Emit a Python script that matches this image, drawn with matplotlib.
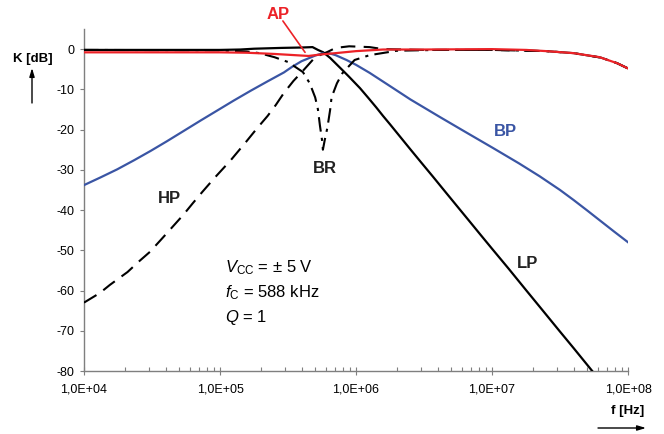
import matplotlib
matplotlib.use("Agg")
import matplotlib.pyplot as plt
from matplotlib.ticker import FixedLocator, LogLocator, NullFormatter

plt.rcParams['font.family'] = ['Liberation Sans', 'DejaVu Sans']
plt.rcParams['mathtext.fontset'] = 'custom'
plt.rcParams['mathtext.rm'] = 'Liberation Sans'
plt.rcParams['mathtext.it'] = 'Liberation Sans:italic'

# ---- measured responses: frequency [Hz] and gain K [dB] ----
lp_freq = [1.0e4, 3.16e4, 1.0e5, 1.41e5, 1.78e5, 2.82e5, 3.98e5, 4.79e5, 5.25e5,
           5.75e5, 6.46e5, 7.94e5, 8.91e5, 1.07e6, 1.23e6, 1.41e6, 1.58e6, 1.78e6,
           2.51e6, 3.02e6, 3.68e6, 4.57e6, 5.62e6, 6.76e6, 8.17e6, 1.0e7,
           1.32e7, 1.78e7, 2.34e7, 3.16e7, 3.98e7, 5.25e7, 6.03e7]
lp_db = [-0.2, -0.2, -0.2, -0.1, 0.1, 0.3, 0.4, 0.5, -0.2,
         -0.8, -2.2, -5.2, -6.9, -9.7, -12.1, -14.5, -16.6, -18.7,
         -24.9, -28.2, -31.7, -35.6, -39.3, -42.6, -46.0, -49.6,
         -54.5, -59.9, -64.8, -70.2, -74.3, -79.3, -81.8]

bp_freq = [1.0e4, 1.32e4, 1.75e4, 2.34e4, 3.09e4, 4.07e4, 5.43e4, 7.24e4, 9.5e4,
           1.26e5, 1.69e5, 2.24e5, 2.95e5, 3.39e5, 3.98e5, 4.47e5, 5.01e5, 5.75e5,
           6.31e5, 7.08e5, 8.51e5, 1.0e6, 1.26e6, 1.78e6, 2.51e6, 4.15e6, 6.31e6,
           1.02e7, 1.58e7, 2.24e7, 3.16e7, 3.98e7, 5.01e7, 6.17e7, 7.94e7, 1.0e8]
bp_db = [-33.8, -31.9, -29.9, -27.6, -25.3, -22.9, -20.3, -17.7, -15.3,
         -12.8, -10.3, -8.0, -5.8, -4.4, -3.0, -2.3, -1.6, -1.0,
         -1.0, -1.5, -2.7, -3.9, -5.9, -9.2, -12.5, -16.9, -20.5,
         -24.6, -28.4, -31.6, -35.0, -37.5, -40.1, -42.5, -45.4, -48.0]

hp_freq = [1.0e4, 1.31e4, 1.55e4, 2.09e4, 2.51e4, 3.05e4, 3.72e4, 4.47e4, 5.37e4,
           6.31e4, 7.41e4, 9.12e4, 1.20e5, 1.55e5, 1.86e5, 2.24e5, 2.57e5, 2.95e5,
           3.47e5, 4.07e5, 5.01e5, 6.17e5, 7.08e5, 8.91e5, 1.26e6, 1.58e6, 3.16e6,
           1.0e7, 2.51e7, 3.98e7, 6.31e7, 8.32e7, 1.0e8]
hp_db = [-63.0, -60.6, -58.6, -55.4, -52.9, -50.4, -47.2, -44.2, -41.2,
         -38.3, -35.5, -32.0, -27.6, -23.1, -19.8, -16.6, -13.9, -10.9,
         -7.9, -5.4, -2.0, -0.7, 0.3, 0.7, 0.5, 0.0, -0.2,
         -0.2, -0.5, -1.0, -2.1, -3.5, -4.8]

br_freq = [1.0e4, 1.0e5, 1.58e5, 1.95e5, 2.51e5, 3.16e5, 4.07e5, 4.57e5, 5.01e5,
           5.25e5, 5.43e5, 5.62e5, 5.71e5, 5.89e5, 6.17e5, 6.46e5, 6.61e5, 7.24e5,
           7.94e5, 9.77e5, 1.26e6, 2.0e6, 3.98e6, 1.0e7, 2.51e7, 3.98e7, 6.31e7,
           8.32e7, 1.0e8]
br_db = [-0.2, -0.3, -0.6, -1.0, -2.0, -3.2, -5.7, -8.5, -12.0,
         -15.0, -19.0, -22.5, -25.0, -22.6, -19.4, -15.0, -12.0, -8.5,
         -6.0, -2.7, -1.5, -0.4, -0.2, -0.2, -0.5, -1.0, -2.1,
         -3.5, -4.8]

ap_freq = [1.0e4, 1.0e5, 1.58e5, 2.51e5, 3.55e5, 4.47e5, 5.62e5, 7.08e5, 1.0e6,
           1.58e6, 3.16e6, 1.0e7, 1.78e7, 2.51e7, 3.98e7, 6.17e7, 8.32e7, 1.0e8]
ap_db = [-0.8, -0.8, -0.9, -1.2, -1.5, -1.7, -1.3, -1.0, -0.5,
         -0.1, -0.1, 0.0, -0.2, -0.5, -1.0, -2.0, -3.5, -4.8]

x_ticks = [1e4, 1e5, 1e6, 1e7, 1e8]
x_ticklabels = ["1,0E+04", "1,0E+05", "1,0E+06", "1,0E+07", "1,0E+08"]
y_ticks = [-80, -70, -60, -50, -40, -30, -20, -10, 0]
y_ticklabels = ["-80", "-70", "-60", "-50", "-40", "-30", "-20", "-10", "0"]

BLUE = "#3a55a4"
RED = "#ec2227"
GREY = "#7f7f7f"

W, H = 664, 434
fig = plt.figure(figsize=(W / 100, H / 100), dpi=100)
ax = fig.add_axes([84 / W, 1 - 371 / H, (628 - 84) / W, (371 - 29) / H])

ax.plot(lp_freq, lp_db, color="black", lw=1.6, zorder=3)
ax.plot(bp_freq, bp_db, color=BLUE, lw=1.6, zorder=3)
ax.plot(hp_freq, hp_db, color="black", lw=1.5, dashes=(7, 4), zorder=3)
ax.plot(br_freq, br_db, color="black", lw=1.5, dashes=(7, 3, 1.5, 3), zorder=3)
ax.plot(ap_freq, ap_db, color=RED, lw=1.6, zorder=4)

ax.set_xscale("log")
ax.set_xlim(1e4, 1e8)
ax.set_ylim(-80, 5)

ax.xaxis.set_major_locator(FixedLocator(x_ticks))
ax.set_xticklabels(x_ticklabels)
ax.xaxis.set_minor_locator(LogLocator(base=10, subs=range(2, 10)))
ax.xaxis.set_minor_formatter(NullFormatter())
ax.yaxis.set_major_locator(FixedLocator(y_ticks))
ax.set_yticklabels(y_ticklabels)

for s in ("top", "right"):
    ax.spines[s].set_visible(False)
for s in ("left", "bottom"):
    ax.spines[s].set_color(GREY)
    ax.spines[s].set_linewidth(1.0)

ax.tick_params(axis="x", which="major", direction="inout", length=6, width=0.8,
               color=GREY, labelsize=9, pad=6)
ax.tick_params(axis="x", which="minor", direction="in", length=3, width=0.8, color=GREY)
ax.tick_params(axis="y", which="major", direction="out", length=3, width=0.8,
               color=GREY, labelsize=9, pad=4)

# curve labels
lab = dict(fontsize=12, fontweight="bold", ha="center", va="center")
ax.text(1.26e7, -20.5, "BP", color=BLUE, **lab)
ax.text(5.86e5, -29.7, "BR", color="#222222", **lab)
ax.text(4.25e4, -37.1, "HP", color="#222222", **lab)
ax.text(1.82e7, -53.4, "LP", color="#222222", **lab)
ax.text(2.67e5, 8.7, "AP", color=RED, clip_on=False, **lab)
ax.annotate("", xy=(4.22e5, -0.8), xytext=(2.9e5, 7.0),
            arrowprops=dict(arrowstyle="-", color=RED, lw=1.2,
                            shrinkA=0, shrinkB=0),
            annotation_clip=False)

# operating conditions
cond = dict(fontsize=12, ha="left", va="center")
ax.text(1.09e5, -54.2, r"$V_{\mathrm{CC}}$ = ± 5 V", **cond)
ax.text(1.09e5, -60.6, r"$f_{\mathrm{C}}$ = 588 kHz", **cond)
ax.text(1.09e5, -66.6, r"$Q$ = 1", **cond)

# axis titles with arrows
fig.text(33 / W, 1 - 59 / H, "K [dB]", fontsize=9.5, fontweight="bold",
         ha="center", va="center")
fig.text(628 / W, 1 - 411 / H, "f [Hz]", fontsize=9.5, fontweight="bold",
         ha="center", va="center")
arr = dict(arrowstyle="-|>,head_length=0.5,head_width=0.15", color="black", lw=1.0,
           shrinkA=0, shrinkB=0)
fig.add_artist(matplotlib.patches.FancyArrowPatch(
    (32 / W, 1 - 103 / H), (32 / W, 1 - 68 / H), transform=fig.transFigure,
    mutation_scale=10, **arr))
fig.add_artist(matplotlib.patches.FancyArrowPatch(
    (598 / W, 1 - 428 / H), (646 / W, 1 - 428 / H), transform=fig.transFigure,
    mutation_scale=10, **arr))

fig.savefig("out.png", dpi=100, facecolor="white")
